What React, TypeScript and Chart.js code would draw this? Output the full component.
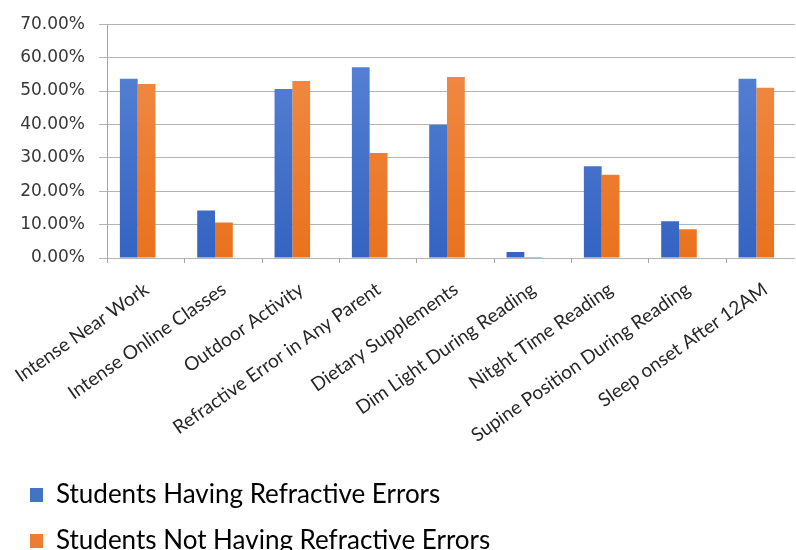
import { useEffect, useRef } from "react";
import { Chart, registerables } from "chart.js";

Chart.register(...registerables);

const categories = [
  "Intense Near Work",
  "Intense Online Classes",
  "Outdoor Activity",
  "Refractive Error in Any Parent",
  "Dietary Supplements",
  "Dim Light During Reading",
  "Nitght Time Reading",
  "Supine Position During Reading",
  "Sleep onset After 12AM",
];

const seriesNames = [
  "Students Having Refractive Errors",
  "Students Not Having Refractive Errors",
];

// percentages
const havingErrors = [53.7, 14.2, 50.6, 57.1, 39.9, 1.8, 27.5, 11.0, 53.7];
const notHavingErrors = [52.1, 10.6, 53.0, 31.4, 54.2, 0.3, 24.9, 8.6, 51.0];

const yMin = 0;
const yMax = 70;
const yStep = 10;

const BLUE = "#4472C4";
const ORANGE = "#ED7D31";

function verticalGradient(top: string, bottom: string, fallback: string) {
  return (ctx: any) => {
    const area = ctx.chart.chartArea;
    if (!area) return fallback;
    const g = ctx.chart.ctx.createLinearGradient(0, area.top, 0, area.bottom);
    g.addColorStop(0, top);
    g.addColorStop(1, bottom);
    return g;
  };
}

// vertical axis line and category tick marks, set a little right of the bar groups
const axisMarks = {
  id: "axisMarks",
  beforeDatasetsDraw(chart: any) {
    const { ctx, chartArea } = chart;
    const step = (chartArea.right - chartArea.left) / categories.length;
    const shift = 8;
    ctx.save();
    ctx.strokeStyle = "#a6a6a6";
    ctx.lineWidth = 1;
    ctx.beginPath();
    const x0 = Math.round(chartArea.left + shift) + 0.5;
    ctx.moveTo(x0, chartArea.top);
    ctx.lineTo(x0, chartArea.bottom + 5);
    for (let i = 1; i <= categories.length; i++) {
      const xi = Math.round(chartArea.left + shift + i * step) + 0.5;
      ctx.moveTo(xi, chartArea.bottom);
      ctx.lineTo(xi, chartArea.bottom + 5);
    }
    ctx.stroke();
    ctx.restore();
  },
};

export default function App() {
  const canvasRef = useRef<HTMLCanvasElement | null>(null);

  useEffect(() => {
    const canvas = canvasRef.current;
    if (!canvas) return;
    const chart = new Chart(canvas, {
      type: "bar",
      data: {
        labels: categories,
        datasets: [
          {
            label: seriesNames[0],
            data: havingErrors,
            backgroundColor: verticalGradient("#5b86d6", "#3463c2", BLUE),
            borderWidth: 0,
          },
          {
            label: seriesNames[1],
            data: notHavingErrors,
            backgroundColor: verticalGradient("#f28e4c", "#e9721d", ORANGE),
            borderWidth: 0,
          },
        ],
      },
      options: {
        animation: false,
        responsive: false,
        maintainAspectRatio: false,
        datasets: {
          bar: { categoryPercentage: 0.46, barPercentage: 1.0 },
        },
        layout: { padding: { left: 10, top: 23, right: 1, bottom: -14 } },
        plugins: {
          tooltip: { enabled: false },
          legend: {
            display: true,
            position: "bottom",
            align: "start",
            labels: {
              boxWidth: 13,
              boxHeight: 14,
              padding: 20,
              color: "#1a1a1a",
              font: { family: "Lato", size: 26 },
              generateLabels: () =>
                seriesNames.map((name, i) => ({
                  text: name,
                  fillStyle: i === 0 ? BLUE : ORANGE,
                  strokeStyle: i === 0 ? BLUE : ORANGE,
                  lineWidth: 0,
                  hidden: false,
                  datasetIndex: i,
                })),
            },
          },
        },
        scales: {
          x: {
            grid: { display: false },
            border: { display: false },
            ticks: {
              autoSkip: false,
              maxRotation: 35,
              minRotation: 35,
              padding: 12,
              labelOffset: 9,
              color: "#262626",
              font: { family: "Lato", size: 19 },
            },
            afterFit: (scale: any) => {
              scale.height = 204;
              scale.paddingLeft = 0;
              scale.paddingRight = 0;
            },
          },
          y: {
            min: yMin,
            max: yMax,
            grid: { color: "#b4b4b4", lineWidth: 1, drawTicks: false },
            border: { display: false },
            ticks: {
              stepSize: yStep,
              padding: 14,
              color: "#383838",
              font: { family: "DejaVu Sans", size: 17 },
              callback: (v: any) => Number(v).toFixed(2) + "%",
            },
            afterFit: (scale: any) => {
              scale.width = 89;
            },
          },
        },
      },
      plugins: [axisMarks],
    });
    return () => chart.destroy();
  }, []);

  return (
    <div
      style={{
        position: "absolute",
        left: 0,
        top: 0,
        width: 796,
        height: 550,
        background: "#ffffff",
      }}
    >
      <canvas ref={canvasRef} width={796} height={550} style={{ width: 796, height: 550 }} />
    </div>
  );
}
